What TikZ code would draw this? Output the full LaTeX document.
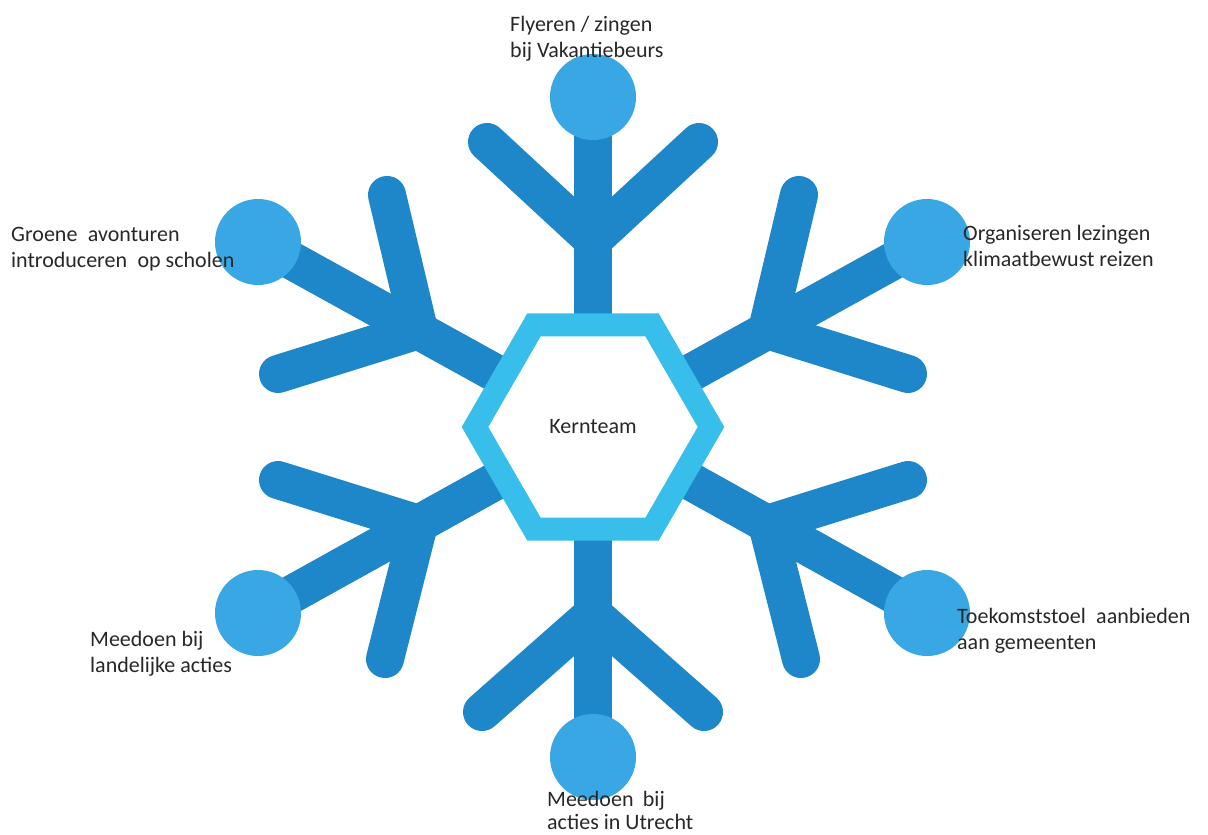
\documentclass[tikz,border=0pt]{standalone}
\usepackage{fontspec}
\setmainfont{Carlito}
\usetikzlibrary{shapes.geometric}
\pgfdeclarelayer{bg}
\pgfsetlayers{bg,main}
\definecolor{armblue}{RGB}{29,135,202}
\definecolor{tipblue}{RGB}{57,167,227}
\definecolor{hexblue}{RGB}{55,190,234}
\definecolor{txt}{RGB}{40,40,40}
\tikzset{
  arm/.style={draw=armblue, line width=38pt, line cap=round, line join=round},
  stem/.style={draw=armblue, line width=38pt},
  tip/.style={circle, fill=tipblue, minimum size=86pt, inner sep=0pt},
  core/.style={regular polygon, regular polygon sides=6, minimum size=236pt,
    inner sep=0pt, draw=hexblue, fill=white, line width=23pt, line join=miter,
    font=\fontsize{22}{26}\selectfont, text=txt},
  lbl/.style={align=left, anchor=base west, inner sep=0pt, text=txt,
    font=\fontsize{22}{26}\selectfont},
}
\begin{document}
\begin{tikzpicture}[x=1pt, y=-1pt]
\useasboundingbox (0,0) rectangle (1208,835);
\begin{pgfonlayer}{bg}
  \fill[white] (0,0) rectangle (1208,835);
\end{pgfonlayer}
% centre
\node[core] (core) at (593,427) {Kernteam};
% tips
\node[tip] (tT)  at (593,97)  {};
\node[tip] (tB)  at (593,757) {};
\node[tip] (tUR) at (927,242) {};
\node[tip] (tLR) at (927,613) {};
\node[tip] (tUL) at (258,242) {};
\node[tip] (tLL) at (258,613) {};
% junctions and branch ends
\coordinate (jT)  at (593,240);
\coordinate (aT)  at (487,142);  \coordinate (bT)  at (699,142);
\coordinate (jB)  at (593,614);
\coordinate (aB)  at (482,712);  \coordinate (bB)  at (704,712);
\coordinate (jUR) at (767,330);
\coordinate (aUR) at (799,195);  \coordinate (bUR) at (908,374);
\coordinate (jLR) at (767,524);
\coordinate (aLR) at (801,659);  \coordinate (bLR) at (908,480);
\coordinate (jUL) at (419,330);
\coordinate (aUL) at (387,195);  \coordinate (bUL) at (278,374);
\coordinate (jLL) at (419,524);
\coordinate (aLL) at (385,659);  \coordinate (bLL) at (278,480);
\begin{pgfonlayer}{bg}
  \foreach \t in {T,B,UR,LR,UL,LL}{
    \draw[stem] (core.center) -- (t\t.center);
    \draw[arm] (a\t) -- (j\t) -- (b\t);
  }
\end{pgfonlayer}
% labels
\node[lbl] (lT)  at (510,57)  {Flyeren / zingen\\bij Vakantiebeurs};
\node[lbl] (lUL) at (11,267)  {Groene\hspace{0.25em} avonturen\\introduceren\hspace{0.25em} op scholen};
\node[lbl] (lUR) at (963,266) {Organiseren lezingen\\klimaatbewust reizen};
\node[lbl] (lLL) at (90,672)  {Meedoen bij\\landelijke acties};
\node[lbl] (lLR) at (957,649) {Toekomststoel\hspace{0.25em} aanbieden\\aan gemeenten};
\node[lbl] (lB)  at (547,829) {Meedoen\hspace{0.2em} bij\\[-3pt]acties in Utrecht};
\end{tikzpicture}
\end{document}
